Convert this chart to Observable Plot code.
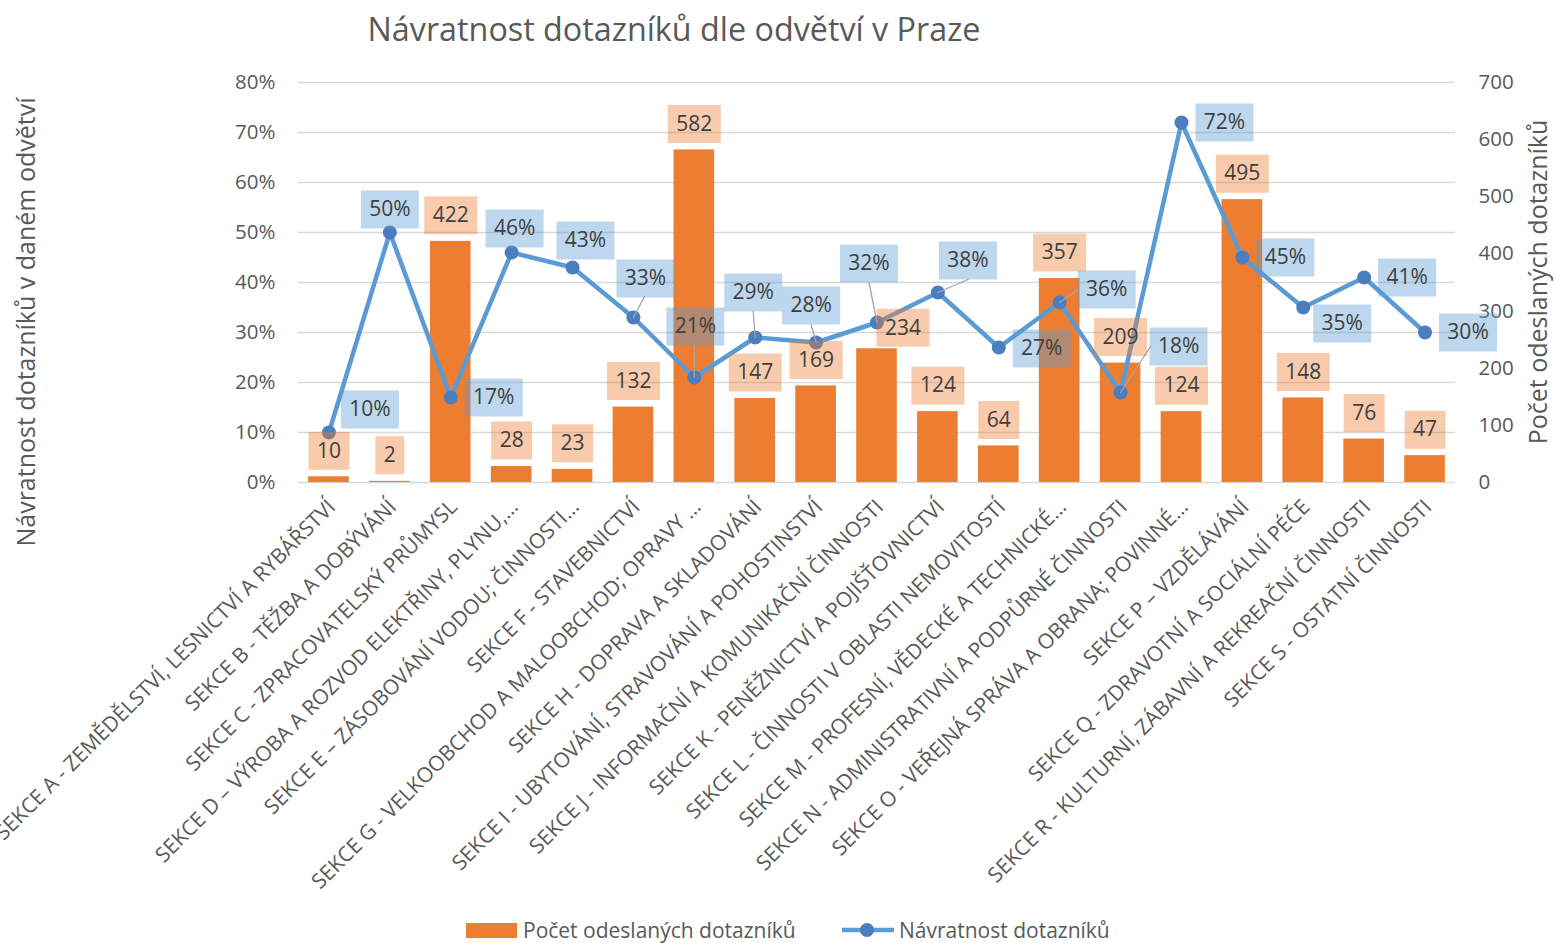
<!DOCTYPE html>
<html><head><meta charset="utf-8">
<script src="https://cdn.jsdelivr.net/npm/d3@7"></script>
<script src="https://cdn.jsdelivr.net/npm/@observablehq/plot@0.6"></script>
<style>
html,body{margin:0;padding:0;background:#fff;overflow:hidden;}
#wrap{position:relative;width:1555px;height:943px;font-family:"Open Sans",sans-serif;color:#595959;overflow:hidden;}
#chart{position:absolute;left:0;top:0;}
#title{position:absolute;left:0;width:1348px;top:5px;text-align:center;font-size:32.3px;line-height:46px;white-space:nowrap;}
.ytitle{position:absolute;white-space:nowrap;font-size:25px;line-height:26px;writing-mode:vertical-rl;transform:translate(-50%,-50%) rotate(180deg);}
.leg{position:absolute;top:920px;height:21px;line-height:21px;font-size:21px;white-space:nowrap;}
</style></head>
<body><div id="wrap">
<div id="chart"></div>
<div id="title">Návratnost dotazníků dle odvětví v Praze</div>
<div class="ytitle" style="left:25px;top:322px;">Návratnost dotazníků v daném odvětví</div>
<div class="ytitle" style="left:1537px;top:282px;">Počet odeslaných dotazníků</div>
<div id="legend"></div>
</div>
<script>
const categories = [
  "SEKCE A - ZEMĚDĚLSTVÍ, LESNICTVÍ A RYBÁŘSTVÍ",
  "SEKCE B - TĚŽBA A DOBÝVÁNÍ",
  "SEKCE C - ZPRACOVATELSKÝ PRŮMYSL",
  "SEKCE D – VÝROBA A ROZVOD ELEKTŘINY, PLYNU,…",
  "SEKCE E – ZÁSOBOVÁNÍ VODOU; ČINNOSTI…",
  "SEKCE F - STAVEBNICTVÍ",
  "SEKCE G - VELKOOBCHOD A MALOOBCHOD; OPRAVY …",
  "SEKCE H - DOPRAVA A SKLADOVÁNÍ",
  "SEKCE I - UBYTOVÁNÍ, STRAVOVÁNÍ A POHOSTINSTVÍ",
  "SEKCE J - INFORMAČNÍ A KOMUNIKAČNÍ ČINNOSTI",
  "SEKCE K - PENĚŽNICTVÍ A POJIŠŤOVNICTVÍ",
  "SEKCE L - ČINNOSTI V OBLASTI NEMOVITOSTÍ",
  "SEKCE M - PROFESNÍ, VĚDECKÉ A TECHNICKÉ…",
  "SEKCE N - ADMINISTRATIVNÍ A PODPŮRNÉ ČINNOSTI",
  "SEKCE O - VEŘEJNÁ SPRÁVA A OBRANA; POVINNÉ…",
  "SEKCE P – VZDĚLÁVÁNÍ",
  "SEKCE Q - ZDRAVOTNÍ A SOCIÁLNÍ PÉČE",
  "SEKCE R - KULTURNÍ, ZÁBAVNÍ A REKREAČNÍ ČINNOSTI",
  "SEKCE S - OSTATNÍ ČINNOSTI"
];
const counts = [10, 2, 422, 28, 23, 132, 582, 147, 169, 234, 124, 64, 357, 209, 124, 495, 148, 76, 47];
const rates  = [0.10, 0.50, 0.17, 0.46, 0.43, 0.33, 0.21, 0.29, 0.28, 0.32, 0.38, 0.27, 0.36, 0.18, 0.72, 0.45, 0.35, 0.41, 0.30];
const rateTicks = [0, 0.1, 0.2, 0.3, 0.4, 0.5, 0.6, 0.7, 0.8];
const countTicks = [0, 100, 200, 300, 400, 500, 600, 700];
const seriesNames = ["Počet odeslaných dotazníků", "Návratnost dotazníků"];

// label placement (pixel offsets from the data point), like the hand-moved Excel labels
const rateLabelOffset = [[41,-23],[0,-23],[43,0],[3,-24],[13,-27],[12,-39],[1,-51],[-2,-45],[-5,-37],[-8,-59],[30,-32],[43,1],[47,-13],[58,-46],[43,0],[43,0],[39,16],[43,0],[43,0]];
const countLabelOffset = counts.map((_, i) => i === 9 ? [26, -21] : [0, -26]);
const leaders = {5:[11,-21], 6:[0,-33], 7:[-2,-26], 8:[-5,-18], 9:[-8,-40], 10:[30,-13], 12:[18,-13], 13:[30,-46]};

const ORANGE = "#ED7D31", BLUE = "#5B9BD5", MARK = "#4A7EBF";
const k = 0.8 / 700;
const rows = categories.map((c, i) => ({cat: c, count: counts[i], rate: rates[i], i}));

const box = (w, h) => ({draw(ctx) { ctx.rect(-w / 2, -h / 2, w, h); }});
const lineShape = {draw(ctx, l) { ctx.moveTo(0, 0); ctx.lineTo(0, -l); }};

const labelMarks = [];
rows.forEach((r, i) => {
  if (leaders[i]) {
    const [lx, ly] = leaders[i];
    labelMarks.push(Plot.vector([r], {x: "cat", y: "rate", length: Math.hypot(lx, ly), rotate: Math.atan2(lx, -ly) * 180 / Math.PI, anchor: "start", shape: lineShape, stroke: "#A6A6A6", strokeWidth: 1.3}));
  }
});
rows.forEach((r, i) => {
  const t = String(r.count);
  const [dx, dy] = countLabelOffset[i];
  labelMarks.push(Plot.dot([r], {x: "cat", y: d => d.count * k, dx, dy, symbol: box(17 + 12 * t.length, 38), fill: ORANGE, fillOpacity: 0.4, stroke: null}));
  labelMarks.push(Plot.text([r], {x: "cat", y: d => d.count * k, dx, dy, text: () => t, fontSize: 21, fill: "#404040"}));
});
rows.forEach((r, i) => {
  const t = Math.round(r.rate * 100) + "%";
  const [dx, dy] = rateLabelOffset[i];
  labelMarks.push(Plot.dot([r], {x: "cat", y: "rate", dx, dy, symbol: box(58, 38), fill: BLUE, fillOpacity: 0.4, stroke: null}));
  labelMarks.push(Plot.text([r], {x: "cat", y: "rate", dx, dy, text: () => t, fontSize: 21, fill: "#404040"}));
});

const chart = Plot.plot({
  width: 1555,
  height: 943,
  marginTop: 82,
  marginBottom: 461,
  marginLeft: 298,
  marginRight: 100,
  style: {fontFamily: "Open Sans, sans-serif", fontSize: "18px", color: "#595959", background: "white", overflow: "visible"},
  x: {domain: categories, paddingInner: 0.333, paddingOuter: 0.1665, round: false, label: null},
  y: {domain: [0, 0.8], label: null},
  marks: [
    Plot.gridY(rateTicks, {stroke: "#D9D9D9", strokeOpacity: 1, strokeWidth: 1.3}),
    Plot.axisY(rateTicks, {anchor: "left", tickSize: 0, tickPadding: 23, tickFormat: d => Math.round(d * 100) + "%", fontSize: 20.5, label: null}),
    Plot.axisY(countTicks.map(v => v * k), {anchor: "right", tickSize: 0, tickPadding: 23, tickFormat: d => String(Math.round(d / k)), fontSize: 20.5, label: null}),
    Plot.axisX({tickSize: 0, tickRotate: -45, tickPadding: 21, dx: 3, fontSize: 21, label: null}),
    Plot.barY(rows, {x: "cat", y: d => d.count * k, fill: ORANGE}),
    Plot.line(rows, {x: "cat", y: "rate", stroke: BLUE, strokeWidth: 4.5}),
    Plot.dot(rows, {x: "cat", y: "rate", r: 7, fill: MARK}),
    ...labelMarks
  ]
});
document.getElementById("chart").appendChild(chart);

const legend = document.getElementById("legend");
legend.innerHTML = `
<div style="position:absolute;left:466px;top:923px;width:51px;height:15px;background:${ORANGE}"></div>
<div class="leg" style="left:523px;">${seriesNames[0]}</div>
<svg style="position:absolute;left:840px;top:920px" width="56" height="20"><line x1="2" y1="10" x2="54" y2="10" stroke="${BLUE}" stroke-width="4.5"/><circle cx="27" cy="10" r="7" fill="${MARK}"/></svg>
<div class="leg" style="left:899px;">${seriesNames[1]}</div>`;
</script>
</body></html>
